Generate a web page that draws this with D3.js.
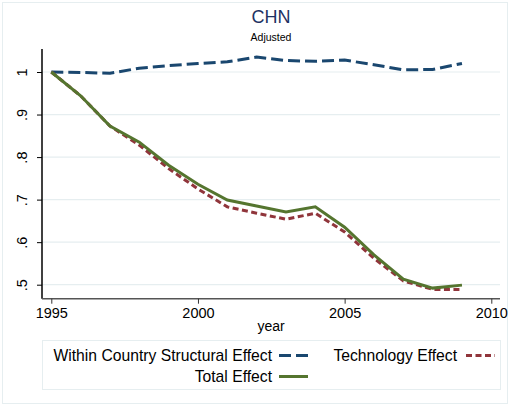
<!DOCTYPE html>
<html>
<head>
<meta charset="utf-8">
<script src="https://cdn.jsdelivr.net/npm/d3@7"></script>
<style>
  body { margin: 0; background: #fff; }
  svg { font-family: "Liberation Sans", Arial, sans-serif; }
</style>
</head>
<body>
<svg id="chart" width="510" height="406"></svg>
<script>
// data
const years = [1995, 1996, 1997, 1998, 1999, 2000, 2001, 2002, 2003, 2004, 2005, 2006, 2007, 2008, 2009];
const withinEffect = [1.0, 0.999, 0.997, 1.009, 1.015, 1.02, 1.024, 1.035, 1.027, 1.025, 1.028, 1.017, 1.005, 1.006, 1.02];
const techEffect = [1.0, 0.944, 0.873, 0.828, 0.773, 0.725, 0.683, 0.668, 0.654, 0.668, 0.624, 0.562, 0.509, 0.489, 0.489];
const totalEffect = [1.0, 0.944, 0.873, 0.835, 0.781, 0.736, 0.699, 0.685, 0.671, 0.683, 0.635, 0.57, 0.513, 0.492, 0.499];
const xTicks = [1995, 2000, 2005, 2010];
const yTicks = [0.5, 0.6, 0.7, 0.8, 0.9, 1];
const yTickLabels = [".5", ".6", ".7", ".8", ".9", "1"];

const navy = "#1a476f", maroon = "#90353b", green = "#55752f";
const gridColor = "#e6eef0";

const svg = d3.select("#chart");

// plot area
const plot = { left: 42, right: 500, top: 49, bottom: 298.7 };

// outer frame
svg.append("rect")
    .attr("x", 2.5).attr("y", 2.5)
    .attr("width", 505).attr("height", 401)
    .attr("fill", "none")
    .attr("stroke", gridColor)
    .attr("stroke-width", 1);

const x = d3.scaleLinear()
    .domain([1995, 2010])
    .range([51.3, 491.3]);

const y = d3.scaleLinear()
    .domain([0.5, 1])
    .range([284.7, 72]);

// gridlines
svg.append("g")
    .selectAll("line")
    .data(yTicks)
    .enter()
    .append("line")
    .attr("x1", plot.left)
    .attr("x2", plot.right)
    .attr("y1", d => y(d))
    .attr("y2", d => y(d))
    .attr("stroke", gridColor)
    .attr("stroke-width", 1.2);

// y-axis
const yAxis = svg.append("g")
    .attr("transform", "translate(" + plot.left + ",0)")
    .call(
        d3.axisLeft(y)
            .tickValues(yTicks)
            .tickSize(5)
            .tickFormat((d, i) => yTickLabels[i])
    );
yAxis.select(".domain")
    .attr("d", "M0," + plot.top + "V" + plot.bottom)
    .attr("stroke", "#000")
    .attr("stroke-width", 1.5);
yAxis.selectAll(".tick line").attr("stroke", "#000");
yAxis.selectAll(".tick text")
    .attr("font-size", "14.5px")
    .attr("font-family", "Liberation Sans, Arial, sans-serif")
    .attr("fill", "#000")
    .attr("x", 0)
    .attr("y", 0)
    .attr("dy", 0)
    .attr("text-anchor", "middle")
    .attr("transform", "translate(-15,0) rotate(-90)");

// x-axis
const xAxis = svg.append("g")
    .attr("transform", "translate(0," + plot.bottom + ")")
    .call(
        d3.axisBottom(x)
            .tickValues(xTicks)
            .tickSize(5)
            .tickFormat(d3.format("d"))
    );
xAxis.select(".domain")
    .attr("d", "M" + plot.left + ",0H" + plot.right)
    .attr("stroke", "#555")
    .attr("stroke-width", 1.5);
xAxis.selectAll(".tick line").attr("stroke", "#333");
xAxis.selectAll(".tick text")
    .attr("font-size", "14.5px")
    .attr("font-family", "Liberation Sans, Arial, sans-serif")
    .attr("fill", "#000")
    .attr("y", 19.5)
    .attr("dy", 0);

// axis title
svg.append("text")
    .attr("x", (plot.left + plot.right) / 2)
    .attr("y", 331)
    .attr("text-anchor", "middle")
    .attr("font-size", "14px")
    .text("year");

// titles
svg.append("text")
    .attr("x", (plot.left + plot.right) / 2)
    .attr("y", 22.7)
    .attr("text-anchor", "middle")
    .attr("font-size", "18px")
    .attr("fill", "#1f3263")
    .text("CHN");
svg.append("text")
    .attr("x", (plot.left + plot.right) / 2)
    .attr("y", 41)
    .attr("text-anchor", "middle")
    .attr("font-size", "10.5px")
    .attr("fill", "#000")
    .text("Adjusted");

// series
const series = [
    { name: "Within Country Structural Effect", values: withinEffect, color: navy, dash: "12,5" },
    { name: "Technology Effect", values: techEffect, color: maroon, dash: "6,3.5" },
    { name: "Total Effect", values: totalEffect, color: green, dash: null }
];

const line = d3.line()
    .x((d, i) => x(years[i]))
    .y(d => y(d));

series.forEach(s => {
    svg.append("path")
        .datum(s.values)
        .attr("fill", "none")
        .attr("stroke", s.color)
        .attr("stroke-width", 3)
        .attr("stroke-dasharray", s.dash)
        .attr("d", line);
});

// legend
svg.append("rect")
    .attr("x", 42.5).attr("y", 340.5)
    .attr("width", 458).attr("height", 49)
    .attr("fill", "none")
    .attr("stroke", gridColor)
    .attr("stroke-width", 1);

const legendItems = [
    { s: series[0], textX: 272, keyX: 279, baseY: 360.5 },
    { s: series[1], textX: 457, keyX: 466, baseY: 360.5 },
    { s: series[2], textX: 272, keyX: 279, baseY: 381.5 }
];

legendItems.forEach(item => {
    svg.append("text")
        .attr("x", item.textX)
        .attr("y", item.baseY)
        .attr("text-anchor", "end")
        .attr("font-size", "15.7px")
        .attr("fill", "#000")
        .text(item.s.name);
    svg.append("line")
        .attr("x1", item.keyX)
        .attr("x2", item.keyX + 29)
        .attr("y1", item.baseY - 5)
        .attr("y2", item.baseY - 5)
        .attr("stroke", item.s.color)
        .attr("stroke-width", 3)
        .attr("stroke-dasharray", item.s.dash);
});
</script>
</body>
</html>
